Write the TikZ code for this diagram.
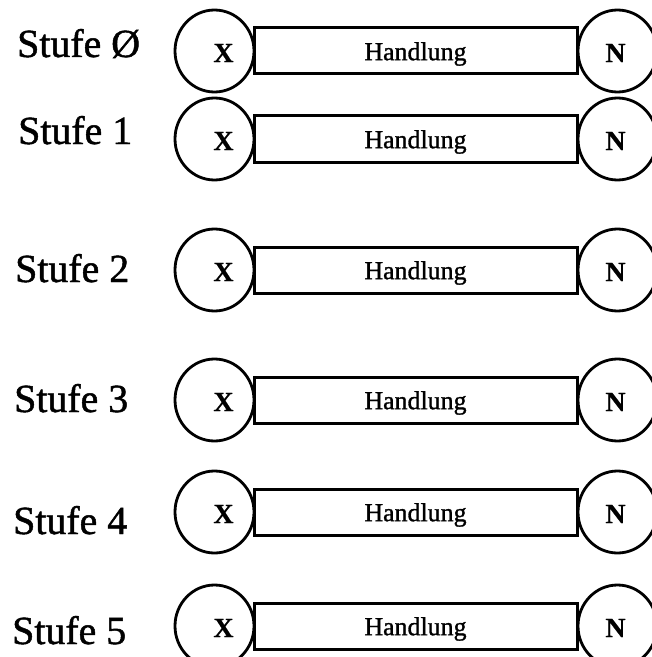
\documentclass[tikz,border=0pt]{standalone}
\usepackage{fontspec}
\setmainfont{Liberation Serif}
\newfontfamily\inkfont[FakeBold=1.2]{Liberation Serif}
\newfontfamily\inkboldfont[FakeBold=0.6]{Liberation Serif Bold}
\usetikzlibrary{shapes.geometric}

\tikzset{
  stage/.style={anchor=base west, inner sep=0pt, font=\inkfont\fontsize{40}{48}\selectfont},
  endring/.style={ellipse, draw, line width=2.8bp, minimum width=79bp, minimum height=82bp, inner sep=0pt},
  endletter/.style={font=\inkboldfont\fontsize{28}{32}\selectfont, inner sep=0pt},
  actbox/.style={rectangle, draw, line width=3bp, minimum width=323bp, minimum height=46bp, inner sep=0pt},
  acttext/.style={font=\inkfont\fontsize{26}{30}\selectfont, inner sep=0pt},
}

\begin{document}
\begin{tikzpicture}[x=1bp, y=-1bp]
  \useasboundingbox (0,0) rectangle (652,657);
  \clip (0,0) rectangle (652,657);
  \fill[white] (0,0) rectangle (652,657);

  % one row per stage: index / row centre / label x / label baseline / label text
  \foreach \i/\y/\lx/\lb/\t in {0/51/17/57/{Stufe Ø},
                                1/139/18/144/{Stufe 1},
                                2/270/15/282/{Stufe 2},
                                3/400/14/412/{Stufe 3},
                                4/512/13/534/{Stufe 4},
                                5/626/12/644/{Stufe 5}} {
    \node[stage] (s\i) at (\lx,\lb) {\t};
    \node[endring] (x\i) at (214.5,\y) {};
    \node[endletter] (xl\i) at ([xshift=9bp, yshift=-2bp]x\i.center) {X};
    \node[actbox] (h\i) at (415.5,\y) {};
    \node[acttext] (ht\i) at ([yshift=-3bp]h\i.center) {Handlung};
    \node[endring] (n\i) at (617.5,\y) {};
    \node[endletter] (nl\i) at ([xshift=-2bp, yshift=-2bp]n\i.center) {N};
  }
\end{tikzpicture}
\end{document}
